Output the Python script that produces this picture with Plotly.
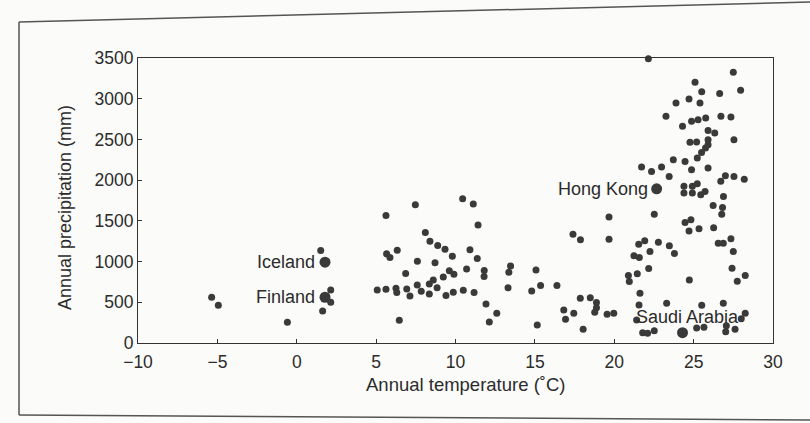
import plotly.graph_objects as go

# ---- data: annual temperature (°C) vs annual precipitation (mm) ----
temps = [
    -5.36, -4.94, -0.59, 1.51, 2.14, 2.14, 1.63,
    5.62, 7.47, 10.45, 11.12, 11.42, 8.1, 8.39, 8.88, 9.34, 9.8, 10.91, 11.37,
    6.33, 5.66, 5.87, 7.6, 8.71, 6.86, 9.61, 9.9, 9.23, 8.6, 8.35, 8.84, 10.7,
    11.81, 11.8, 13.47, 13.36, 15.07, 5.07, 5.62, 6.25, 6.3, 6.93, 7.13, 7.59,
    7.84, 8.35, 9.4, 9.86, 10.49, 11.17, 13.31, 14.8, 15.36, 16.39, 11.92,
    12.6, 12.13, 6.46, 15.15,
    17.4, 17.87, 19.67, 19.67, 22.52, 21.54, 21.92, 22.78, 23.47, 23.79, 21.24,
    21.58, 22.25, 22.17, 20.89, 21.45, 20.95, 21.62, 21.56, 21.41, 21.79, 22.1,
    22.52, 23.3, 24.71, 24.46, 24.83, 25.34, 26.26, 26.55, 26.87, 27.35, 27.5,
    27.42, 27.75, 28.25, 24.73, 25.51, 26.87, 28.25, 28.0, 25.19, 25.65, 27.02,
    27.61, 27.06, 17.86, 18.49, 16.82, 17.45, 16.93, 18.04, 18.88, 18.88,
    18.77, 19.55, 19.97, 26.77,
    22.15, 27.5, 25.09, 27.96, 25.51, 26.64, 24.71, 23.89, 25.4, 23.26, 26.72,
    27.35, 24.3, 24.87, 25.28, 25.76, 25.91, 26.33, 27.54, 24.77, 25.19, 25.91,
    25.91, 25.75, 25.5, 23.72, 24.46, 25.23, 21.72, 22.35, 22.98, 23.46, 24.87,
    25.91, 26.71, 27.0, 27.54, 28.19, 24.39, 24.92, 25.23, 24.39, 24.92, 25.45,
    25.72, 26.88, 26.23, 26.82,
]
precip = [
    562, 464, 255, 1135, 652, 500, 394,
    1566, 1697, 1771, 1706, 1448, 1357, 1251, 1197, 1152, 1066, 1144, 1037,
    1140, 1095, 1049, 1005, 984, 852, 886, 845, 812, 775, 726, 680, 910,
    889, 816, 947, 870, 898, 652, 660, 673, 619, 664, 578, 713,
    636, 603, 582, 624, 648, 619, 677, 640, 705, 705, 480,
    365, 258, 279, 221,
    1337, 1267, 1546, 1275, 1582, 1214, 1255, 1238, 1193, 1099, 1070,
    1049, 1123, 914, 828, 849, 754, 611, 467, 283, 127, 119,
    151, 488, 1374, 1480, 1513, 1402, 1414, 1226, 1226, 1279, 1123,
    919, 759, 828, 775, 464, 488, 365, 299, 184, 193, 139,
    168, 213, 550, 557, 406, 365, 291, 168, 496, 434,
    377, 353, 365, 1582,
    3490, 3325, 3202, 3104, 3084, 3063, 2997, 2948, 2948, 2784, 2784,
    2776, 2661, 2722, 2743, 2764, 2611, 2579, 2497, 2464, 2468, 2497,
    2435, 2394, 2341, 2251, 2230, 2272, 2161, 2107, 2161, 2046, 2128,
    2149, 1985, 2054, 2046, 2012, 1924, 1924, 1956, 1841, 1841, 1820,
    1861, 1800, 1689, 1664,
]

# labelled countries
countries = ["Iceland", "Finland", "Hong Kong", "Saudi Arabia"]
country_temps = [1.78, 1.78, 22.67, 24.3]
country_precip = [993, 562, 1894, 127]

x_ticks = [-10, -5, 0, 5, 10, 15, 20, 25, 30]
x_tick_labels = ["\u221210", "\u22125", "0", "5", "10", "15", "20", "25", "30"]
y_ticks = [0, 500, 1000, 1500, 2000, 2500, 3000, 3500]

FONT = "Liberation Sans, Arial, Helvetica, sans-serif"
INK = "#2b2b2b"
DOT = "#3a3a3a"

fig = go.Figure()
fig.add_trace(go.Scatter(
    x=temps, y=precip, mode="markers",
    marker=dict(size=7, color=DOT, line=dict(width=0)),
    cliponaxis=False, showlegend=False, hoverinfo="x+y",
))
fig.add_trace(go.Scatter(
    x=country_temps, y=country_precip, mode="markers",
    marker=dict(size=11, color=DOT, line=dict(width=0)),
    cliponaxis=False, showlegend=False, text=countries, hoverinfo="text+x+y",
))

# country labels anchored to their points
label_pos = {
    "Iceland": dict(xanchor="right", yanchor="middle", xshift=-8, yshift=0),
    "Finland": dict(xanchor="right", yanchor="middle", xshift=-8, yshift=0),
    "Hong Kong": dict(xanchor="right", yanchor="middle", xshift=-7, yshift=0),
    "Saudi Arabia": dict(xanchor="center", yanchor="middle", xshift=5, yshift=16),
}
for name, cx, cy in zip(countries, country_temps, country_precip):
    fig.add_annotation(x=cx, y=cy, xref="x", yref="y", text=name, showarrow=False,
                       font=dict(family=FONT, size=18, color=INK), **label_pos[name])

# axis titles
fig.add_annotation(text="Annual temperature (\u02daC)", xref="paper", yref="paper",
                   x=0.5165, y=-0.147, xanchor="center", yanchor="middle",
                   showarrow=False, font=dict(family=FONT, size=18.5, color=INK))
fig.add_annotation(text="Annual precipitation (mm)", xref="paper", yref="paper",
                   x=-0.115, y=0.477, xanchor="center", yanchor="middle", textangle=-90,
                   showarrow=False, font=dict(family=FONT, size=18, color=INK))

# page frame of the scanned figure
frame_color = "#555555"
fig.add_shape(type="line", xref="paper", yref="paper", x0=-0.1874, y0=1.1263, x1=1.06, y1=1.1965,
              line=dict(color=frame_color, width=1.5))
fig.add_shape(type="line", xref="paper", yref="paper", x0=-0.1874, y0=1.1263, x1=-0.1874, y1=-0.2526,
              line=dict(color=frame_color, width=1.5))
fig.add_shape(type="line", xref="paper", yref="paper", x0=-0.1874, y0=-0.2526, x1=1.06, y1=-0.2702,
              line=dict(color=frame_color, width=1.5))

axis_common = dict(
    showline=True, linecolor="#333333", linewidth=1.2, mirror=True,
    ticks="inside", ticklen=4, tickcolor="#333333", tickwidth=1,
    showgrid=False, zeroline=False,
    tickfont=dict(family=FONT, size=17.5, color=INK),
)
fig.update_xaxes(range=[-10, 30], tickvals=x_ticks, ticktext=x_tick_labels,
                 ticklabelstandoff=3, **axis_common)
fig.update_yaxes(range=[0, 3500], tickvals=y_ticks, **axis_common)

fig.update_layout(
    width=810, height=423,
    margin=dict(l=138, r=37, t=58, b=80),
    paper_bgcolor="#fbfbfa", plot_bgcolor="#fbfbfa",
    font=dict(family=FONT, color=INK),
)

fig.write_html("out.html", config={"displayModeBar": False},
               post_script="document.body.style.margin='0';document.body.style.overflow='hidden';")
